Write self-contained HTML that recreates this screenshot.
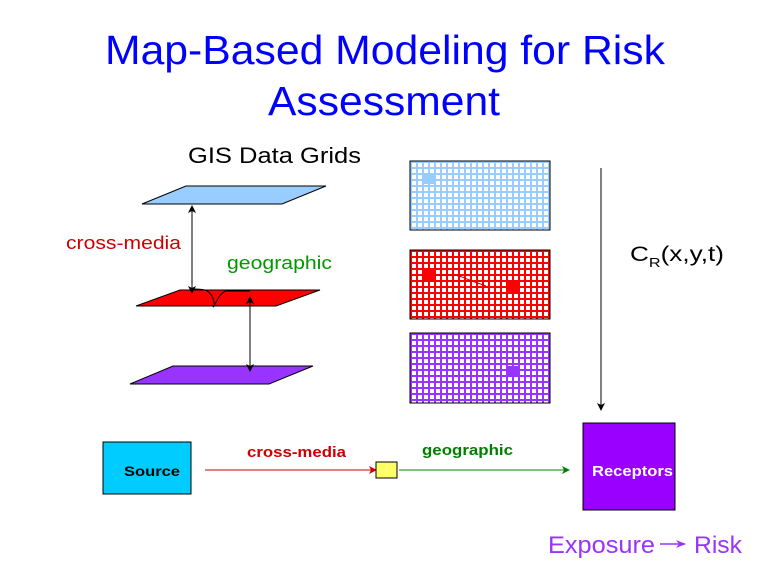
<!DOCTYPE html>
<html><head><meta charset="utf-8"><style>
body{margin:0;background:#fff;}
svg{display:block;font-family:"Liberation Sans",Arial,sans-serif;}
</style></head><body>
<svg width="768" height="576" viewBox="0 0 768 576" xmlns="http://www.w3.org/2000/svg">
<defs>
<pattern id="gb" width="6" height="6" patternUnits="userSpaceOnUse" x="410" y="161"><rect width="6" height="6" fill="#fff"/><rect x="0" y="0" width="2" height="6" fill="#99ccff"/><rect x="0" y="0" width="6" height="2" fill="#99ccff"/></pattern>
<pattern id="gr" width="6" height="6" patternUnits="userSpaceOnUse" x="410" y="250"><rect width="6" height="6" fill="#fff"/><rect x="0" y="0" width="2" height="6" fill="#ff0000"/><rect x="0" y="0" width="6" height="2" fill="#ff0000"/></pattern>
<pattern id="gp" width="6" height="6" patternUnits="userSpaceOnUse" x="410" y="333"><rect width="6" height="6" fill="#fff"/><rect x="0" y="0" width="2" height="6" fill="#9933ff"/><rect x="0" y="0" width="6" height="2" fill="#9933ff"/></pattern>
<marker id="ak" markerWidth="8" markerHeight="8" refX="7" refY="4" orient="auto-start-reverse" markerUnits="userSpaceOnUse"><path d="M0 0L8 4L0 8L2 4z" fill="#000"/></marker>
<marker id="ar" markerWidth="8" markerHeight="8" refX="7" refY="4" orient="auto" markerUnits="userSpaceOnUse"><path d="M0 0L8 4L0 8L2 4z" fill="#cc0000"/></marker>
<marker id="ag" markerWidth="8" markerHeight="8" refX="7" refY="4" orient="auto" markerUnits="userSpaceOnUse"><path d="M0 0L8 4L0 8L2 4z" fill="#008000"/></marker>
<marker id="ap" markerWidth="10" markerHeight="8" refX="9" refY="4" orient="auto" markerUnits="userSpaceOnUse"><path d="M0 0L10 4L0 8L3 4z" fill="#9933ff"/></marker>
</defs>
<text x="105" y="64" font-size="41" fill="#0000ff" textLength="560" lengthAdjust="spacingAndGlyphs">Map-Based Modeling for Risk</text>
<text x="268" y="115" font-size="41" fill="#0000ff" textLength="232" lengthAdjust="spacingAndGlyphs">Assessment</text>
<text x="188" y="163" font-size="22" fill="#000" textLength="173" lengthAdjust="spacingAndGlyphs">GIS Data Grids</text>

<polygon points="142,204 186,186 326,186 282,204" fill="#99ccff" stroke="#000" stroke-width="1"/>
<polygon points="136,306 180,290 320,290 276,306" fill="#ff0000" stroke="#000" stroke-width="1"/>
<polygon points="130,384 173,366 313,366 269,384" fill="#9933ff" stroke="#000" stroke-width="1"/>
<path d="M194 289 C205 289 208 290 212 296 C214 300 215 306 213 307 C216 304 219 293 226 291 L250 291" fill="none" stroke="#000" stroke-width="1"/>
<line x1="192" y1="206" x2="192" y2="293" stroke="#000" stroke-width="1" marker-start="url(#ak)" marker-end="url(#ak)"/>
<line x1="250" y1="297" x2="250" y2="371" stroke="#000" stroke-width="1" marker-start="url(#ak)" marker-end="url(#ak)"/>
<text x="66" y="249" font-size="18" fill="#cc0000" textLength="115" lengthAdjust="spacingAndGlyphs">cross-media</text>
<text x="227" y="269" font-size="18" fill="#009900" textLength="105" lengthAdjust="spacingAndGlyphs">geographic</text>

<rect x="410" y="161" width="140" height="69" fill="url(#gb)" stroke="#000" stroke-width="1"/>
<rect x="423" y="174" width="11" height="10" fill="#99ccff"/>
<rect x="410" y="250" width="140" height="69" fill="url(#gr)" stroke="#000" stroke-width="1"/>
<rect x="423" y="270" width="11" height="11" fill="#ff0000"/>
<rect x="506" y="280" width="13" height="14" fill="#ff0000"/>
<path d="M434 275 L455 275 L462 277 L472 281 L486 286" fill="none" stroke="#cc0000" stroke-width="1"/>
<rect x="410" y="333" width="140" height="70" fill="url(#gp)" stroke="#000" stroke-width="1"/>
<rect x="507" y="366" width="11" height="10" fill="#9933ff"/>

<line x1="601" y1="168" x2="601" y2="410" stroke="#000" stroke-width="1" marker-end="url(#ak)"/>
<text x="630" y="261" font-size="21" fill="#000" textLength="94" lengthAdjust="spacingAndGlyphs">C<tspan font-size="13" dy="6">R</tspan><tspan dy="-6">(x,y,t)</tspan></text>

<rect x="103" y="442" width="88" height="52" fill="#00ccff" stroke="#000" stroke-width="1"/>
<text x="124" y="476" font-size="14" font-weight="bold" fill="#000" textLength="56" lengthAdjust="spacingAndGlyphs">Source</text>
<line x1="205" y1="470" x2="376" y2="470" stroke="#cc0000" stroke-width="1" marker-end="url(#ar)"/>
<text x="247" y="457" font-size="15" font-weight="bold" fill="#cc0000" textLength="99" lengthAdjust="spacingAndGlyphs">cross-media</text>
<rect x="376" y="462" width="21" height="16" fill="#ffff66" stroke="#000" stroke-width="1"/>
<line x1="399" y1="470" x2="569" y2="470" stroke="#008000" stroke-width="1" marker-end="url(#ag)"/>
<text x="422" y="455" font-size="15" font-weight="bold" fill="#008000" textLength="91" lengthAdjust="spacingAndGlyphs">geographic</text>
<rect x="583" y="423" width="92" height="87" fill="#9900ff" stroke="#000" stroke-width="1"/>
<text x="592" y="476" font-size="15" font-weight="bold" fill="#fff" textLength="81" lengthAdjust="spacingAndGlyphs">Receptors</text>

<text x="548" y="553" font-size="24" fill="#9933ff" textLength="107" lengthAdjust="spacingAndGlyphs">Exposure</text>
<line x1="660" y1="544" x2="685" y2="544" stroke="#9933ff" stroke-width="1.5" marker-end="url(#ap)"/>
<text x="694" y="553" font-size="24" fill="#9933ff" textLength="48" lengthAdjust="spacingAndGlyphs">Risk</text>
</svg>
</body></html>
